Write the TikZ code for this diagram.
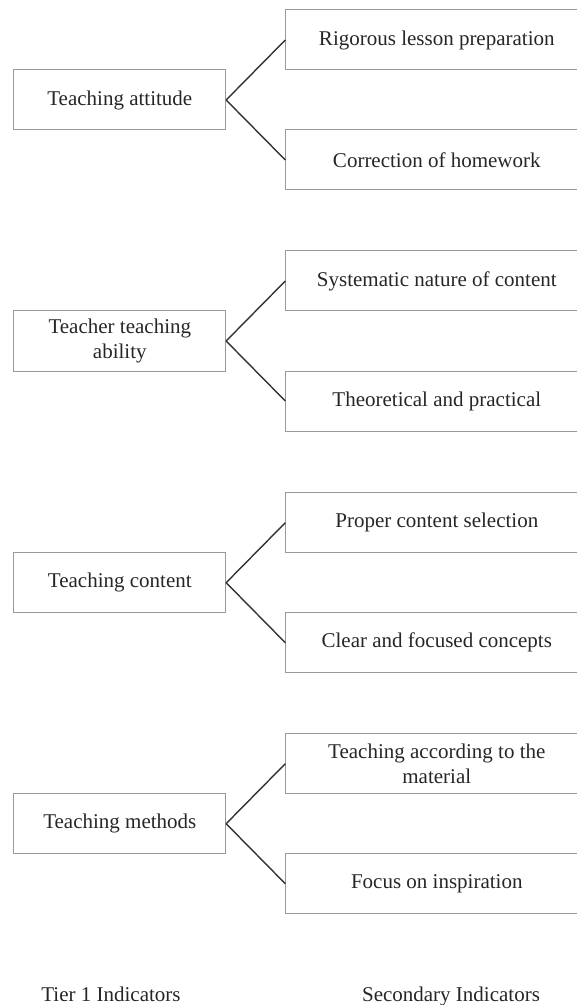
\documentclass[tikz,border=0pt]{standalone}
\usepackage{fontspec}
\setmainfont{Liberation Serif}
\tikzset{
  tierbox/.style={draw=black!40, line width=0.5pt, minimum width=105.85pt, minimum height=30pt,
    inner sep=2pt, align=center, text=black!85, font=\fontsize{10.5}{12.5}\selectfont},
  subbox/.style={tierbox, minimum width=151pt},
  link/.style={draw=black!80, line width=0.7pt},
  caption/.style={anchor=base, text=black!85, font=\fontsize{10.5}{12.5}\selectfont},
}
\begin{document}
\begin{tikzpicture}[x=0.5pt,y=-0.5pt]
\useasboundingbox (0,0) rectangle (577,1005);
\foreach \y/\main/\up/\down [count=\i] in {
  100/{Teaching attitude}/{Rigorous lesson preparation}/{Correction of homework},
  341/{Teacher teaching\\ability}/{Systematic nature of content}/{Theoretical and practical},
  582.7/{Teaching content}/{Proper content selection}/{Clear and focused concepts},
  823.7/{Teaching methods}/{Teaching according to the\\material}/{Focus on inspiration}} {
  \node[tierbox] (t\i) at (119.8,\y) {\main};
  \node[subbox] (u\i) at (436.8,\y-60) {\up};
  \node[subbox] (d\i) at (436.8,\y+60) {\down};
  \draw[link] (t\i.east) -- (u\i.west);
  \draw[link] (t\i.east) -- (d\i.west);
}
\node[caption] (tier) at (111,1001) {Tier 1 Indicators};
\node[caption] (second) at (451,1001) {Secondary Indicators};
\end{tikzpicture}
\end{document}
